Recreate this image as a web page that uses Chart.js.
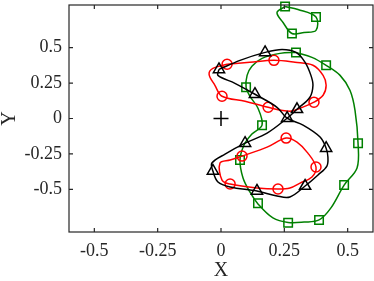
<!DOCTYPE html>
<html><head><meta charset="utf-8">
<script src="https://cdn.jsdelivr.net/npm/chart.js@4/dist/chart.umd.min.js"></script>
<style>html,body{margin:0;padding:0;background:#fff;}</style>
</head><body>
<canvas id="c" width="374" height="281"></canvas>
<script>
// ---- data ----
const xTicks = [-0.5, -0.25, 0, 0.25, 0.5];
const xTickLabels = ['-0.5', '-0.25', '0', '0.25', '0.5'];
const yTicks = [-0.5, -0.25, 0, 0.25, 0.5];
const yTickLabels = ['-0.5', '-0.25', '0', '0.25', '0.5'];

const greenMainX = [0.296,0.359,0.415,0.470,0.509,0.529,0.541,0.537,0.486,0.434,0.387,0.328,0.265,0.205,0.146,0.114,0.087,0.075,0.091,0.122,0.162,0.146,0.114,0.099,0.103,0.122,0.162,0.233,0.296];
const greenMainY = [0.466,0.431,0.375,0.304,0.199,0.058,-0.174,-0.349,-0.469,-0.630,-0.715,-0.730,-0.733,-0.701,-0.602,-0.518,-0.420,-0.293,-0.187,-0.110,-0.047,0.072,0.157,0.220,0.304,0.368,0.424,0.459,0.466];
const greenTopX = [0.253,0.304,0.375,0.375,0.328,0.280,0.245,0.221,0.253];
const greenTopY = [0.789,0.768,0.715,0.621,0.607,0.599,0.677,0.747,0.789];
const greenMarkX = [0.253,0.375,0.280,0.296,0.415,0.099,0.162,0.075,0.541,0.486,0.146,0.265,0.387];
const greenMarkY = [0.789,0.715,0.599,0.466,0.375,0.220,-0.047,-0.293,-0.174,-0.469,-0.597,-0.735,-0.715];

const redTopX = [0.024,0.114,0.209,0.292,0.363,0.403,0.415,0.403,0.367,0.312,0.272,0.186,0.095,0.004,-0.024,-0.047,-0.032,0.024];
const redTopY = [0.382,0.396,0.410,0.396,0.375,0.304,0.234,0.164,0.115,0.072,0.051,0.079,0.122,0.157,0.234,0.311,0.353,0.382];
const redBotX = [0.083,0.182,0.257,0.300,0.343,0.375,0.359,0.312,0.272,0.225,0.142,0.036,0.004,-0.004,0.036,0.083];
const redBotY = [-0.265,-0.202,-0.138,-0.167,-0.244,-0.342,-0.412,-0.455,-0.490,-0.497,-0.490,-0.462,-0.434,-0.314,-0.293,-0.265];
const redMarkX = [0.024,0.209,0.367,0.186,0.004,0.083,0.257,0.375,0.225,0.036];
const redMarkY = [0.382,0.410,0.115,0.079,0.157,-0.265,-0.138,-0.342,-0.497,-0.462];

const blackX = [-0.008,0.075,0.174,0.241,0.296,0.332,0.355,0.363,0.351,0.300,0.261,0.182,0.095,0.016,-0.036,-0.032,-0.012,0.036,0.142,0.221,0.272,0.332,0.383,0.418,0.422,0.415,0.391,0.324,0.261,0.221,0.134,0.055,-0.012,-0.008];
const blackY = [0.346,0.410,0.466,0.487,0.466,0.396,0.304,0.234,0.150,0.065,0.002,-0.103,-0.174,-0.251,-0.314,-0.370,-0.448,-0.483,-0.511,-0.546,-0.553,-0.476,-0.398,-0.335,-0.272,-0.209,-0.131,-0.047,0.002,0.079,0.171,0.248,0.304,0.346];
const blackMarkX = [-0.008,0.174,0.300,0.261,0.095,-0.032,0.142,0.332,0.415,0.134];
const blackMarkY = [0.346,0.466,0.065,0.002,-0.174,-0.370,-0.511,-0.476,-0.209,0.171];

const originX = [0];
const originY = [0];

// ---- helpers ----
const pts = (xs, ys) => xs.map((x, i) => ({x: x, y: ys[i]}));
const GREEN = 'rgb(0,128,0)', RED = 'rgb(255,0,0)', BLACK = '#000';
const lineDs = (xs, ys, color, order) => ({
  data: pts(xs, ys), showLine: true, borderColor: color, borderWidth: 1.5,
  pointRadius: 0, tension: 0.35, fill: false, order: order
});
const markDs = (xs, ys, color, style, r, order) => ({
  data: pts(xs, ys), showLine: false, pointStyle: style, pointRadius: r,
  pointBorderColor: color, pointBackgroundColor: 'rgba(0,0,0,0)', pointBorderWidth: 1.5,
  clip: false, order: order
});

const FONT = '"Liberation Serif", "Times New Roman", serif';
const AXC = '#262626';

const framePlugin = {
  id: 'frame',
  afterDraw(chart) {
    const {ctx, chartArea: a, scales: {x, y}} = chart;
    ctx.save();
    ctx.strokeStyle = AXC;
    ctx.lineWidth = 1.2;
    ctx.strokeRect(a.left, a.top, a.right - a.left, a.bottom - a.top);
    const tl = 4;
    ctx.beginPath();
    xTicks.forEach(v => {
      const px = x.getPixelForValue(v);
      ctx.moveTo(px, a.bottom); ctx.lineTo(px, a.bottom - tl);
      ctx.moveTo(px, a.top); ctx.lineTo(px, a.top + tl);
    });
    yTicks.forEach(v => {
      const py = y.getPixelForValue(v);
      ctx.moveTo(a.left, py); ctx.lineTo(a.left + tl, py);
      ctx.moveTo(a.right, py); ctx.lineTo(a.right - tl, py);
    });
    ctx.stroke();
    ctx.restore();
  }
};

const noPad = s => { s.paddingTop = 0; s.paddingBottom = 0; s.paddingLeft = 0; s.paddingRight = 0; };

new Chart(document.getElementById('c'), {
  type: 'scatter',
  data: {
    datasets: [
      markDs(originX, originY, BLACK, 'cross', 7.5, 0),
      lineDs(blackX, blackY, BLACK, 1),
      markDs(blackMarkX, blackMarkY, BLACK, 'triangle', 6.5, 1),
      lineDs(redTopX, redTopY, RED, 2),
      lineDs(redBotX, redBotY, RED, 2),
      markDs(redMarkX, redMarkY, RED, 'circle', 5, 2),
      lineDs(greenMainX, greenMainY, GREEN, 3),
      lineDs(greenTopX, greenTopY, GREEN, 3),
      markDs(greenMarkX, greenMarkY, GREEN, 'rect', 6, 3)
    ]
  },
  options: {
    responsive: false, animation: false, devicePixelRatio: 1,
    layout: {autoPadding: false, padding: {left: 0, right: 1, top: 5, bottom: 0}},
    plugins: {legend: {display: false}, tooltip: {enabled: false}},
    scales: {
      x: {
        type: 'linear', min: -0.6, max: 0.6,
        afterBuildTicks: s => { s.ticks = xTicks.map(v => ({value: v})); },
        afterFit: s => { s.height = 49; noPad(s); },
        grid: {display: false, drawTicks: false},
        border: {display: false},
        ticks: {autoSkip: false, maxRotation: 0, padding: 8, color: AXC,
          font: {family: FONT, size: 18},
          callback: (v, i) => xTickLabels[i]},
        title: {display: true, text: 'X', color: AXC,
          font: {family: FONT, size: 20, lineHeight: 1}, padding: {top: 0, bottom: 0}}
      },
      y: {
        type: 'linear', min: -0.8, max: 0.8,
        afterBuildTicks: s => { s.ticks = yTicks.map(v => ({value: v})); },
        afterFit: s => { s.width = 69; noPad(s); },
        grid: {display: false, drawTicks: false},
        border: {display: false},
        ticks: {autoSkip: false, padding: 7, color: AXC,
          font: {family: FONT, size: 18},
          callback: (v, i) => yTickLabels[i]},
        title: {display: true, text: 'Y', color: AXC,
          font: {family: FONT, size: 20, lineHeight: 1}, padding: {top: 0, bottom: 0}}
      }
    }
  },
  plugins: [framePlugin]
});
</script>
</body></html>
